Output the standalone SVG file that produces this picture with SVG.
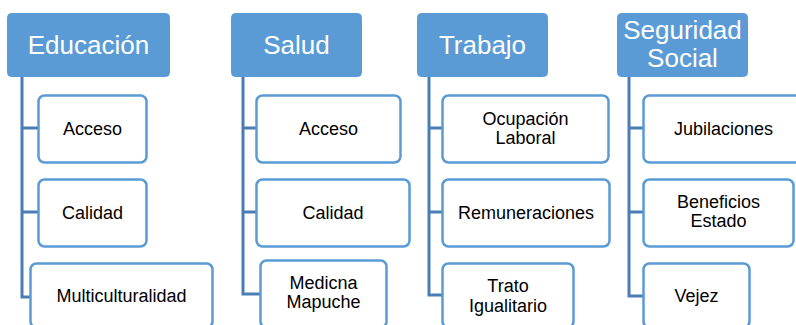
<svg xmlns="http://www.w3.org/2000/svg" width="796" height="325" viewBox="0 0 796 325">
<style>
.hd{fill:#5b9bd5;stroke:#5b9bd5;stroke-width:1}
.ht{fill:#ffffff;font-family:"Liberation Sans",Arial,sans-serif;font-size:26px;text-anchor:middle}
.ch{fill:#ffffff;stroke:#5b9bd5;stroke-width:2.5}
.ct{fill:#000000;font-family:"Liberation Sans",Arial,sans-serif;font-size:18px;text-anchor:middle}
.cn{fill:none;stroke:#4a7db5;stroke-width:3}
</style>
<rect width="796" height="325" fill="#ffffff"/>
<g id="connectors">
<path class="cn" d="M22 77V297H30M22 128H38M22 212H38"/>
<path class="cn" d="M243 77V294H260M243 128H256M243 212H256"/>
<path class="cn" d="M429 77V295H442M429 128H442M429 212H442"/>
<path class="cn" d="M629 77V296H643M629 128H643M629 212H643"/>
</g>
<g id="educacion">
<rect class="hd" x="7.5" y="13.5" width="162" height="63" rx="4"/>
<text class="ht" x="88.5" y="54">Educación</text>
</g>
<g id="educacion-acceso">
<rect class="ch" x="38.5" y="95.5" width="108" height="67" rx="6"/>
<text class="ct" x="92.5" y="135">Acceso</text>
</g>
<g id="educacion-calidad">
<rect class="ch" x="38.5" y="179.5" width="108" height="67" rx="6"/>
<text class="ct" x="92.5" y="219">Calidad</text>
</g>
<g id="educacion-multiculturalidad">
<rect class="ch" x="30.5" y="263.5" width="182" height="64" rx="6"/>
<text class="ct" x="121.5" y="302">Multiculturalidad</text>
</g>
<g id="salud">
<rect class="hd" x="231.5" y="13.5" width="130" height="63" rx="4"/>
<text class="ht" x="296.5" y="54">Salud</text>
</g>
<g id="salud-acceso">
<rect class="ch" x="256.5" y="95.5" width="144" height="67" rx="6"/>
<text class="ct" x="328.5" y="135">Acceso</text>
</g>
<g id="salud-calidad">
<rect class="ch" x="256.5" y="179.5" width="153" height="67" rx="6"/>
<text class="ct" x="333" y="219">Calidad</text>
</g>
<g id="salud-medicna">
<rect class="ch" x="260.5" y="260.5" width="126" height="67" rx="6"/>
<text class="ct" x="323.5" y="289">Medicna</text>
<text class="ct" x="323.5" y="308">Mapuche</text>
</g>
<g id="trabajo">
<rect class="hd" x="417.5" y="13.5" width="130" height="63" rx="4"/>
<text class="ht" x="482.5" y="54">Trabajo</text>
</g>
<g id="trabajo-ocupacion">
<rect class="ch" x="442.5" y="95.5" width="166" height="67" rx="6"/>
<text class="ct" x="525.5" y="125">Ocupación</text>
<text class="ct" x="525.5" y="144">Laboral</text>
</g>
<g id="trabajo-remuneraciones">
<rect class="ch" x="442.5" y="179.5" width="167" height="67" rx="6"/>
<text class="ct" x="526" y="219">Remuneraciones</text>
</g>
<g id="trabajo-trato">
<rect class="ch" x="442.5" y="263.5" width="131" height="64" rx="6"/>
<text class="ct" x="508" y="292">Trato</text>
<text class="ct" x="508" y="312">Igualitario</text>
</g>
<g id="seguridad">
<rect class="hd" x="617.5" y="13.5" width="130" height="63" rx="4"/>
<text class="ht" x="682.5" y="39">Seguridad</text>
<text class="ht" x="682.5" y="67">Social</text>
</g>
<g id="seguridad-jubilaciones">
<rect class="ch" x="643.5" y="95.5" width="160" height="67" rx="6"/>
<text class="ct" x="723.5" y="135">Jubilaciones</text>
</g>
<g id="seguridad-beneficios">
<rect class="ch" x="643.5" y="179.5" width="150" height="67" rx="6"/>
<text class="ct" x="718.5" y="208">Beneficios</text>
<text class="ct" x="718.5" y="227">Estado</text>
</g>
<g id="seguridad-vejez">
<rect class="ch" x="643.5" y="263.5" width="106" height="64" rx="6"/>
<text class="ct" x="696.5" y="302">Vejez</text>
</g>
</svg>
